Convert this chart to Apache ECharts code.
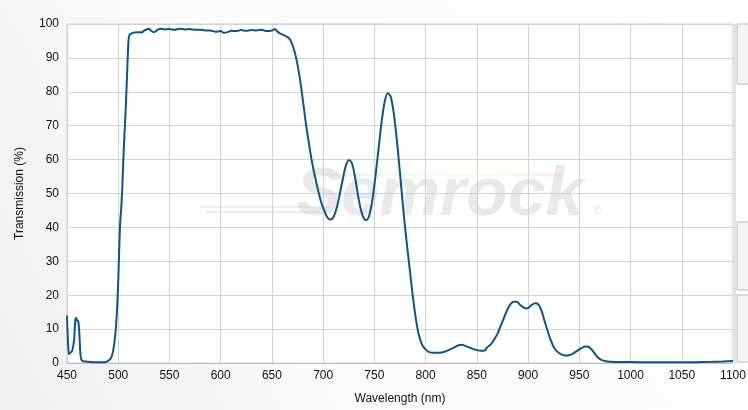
<!DOCTYPE html>
<html>
<head>
<meta charset="utf-8">
<script src="https://cdn.jsdelivr.net/npm/echarts@6/dist/echarts.min.js"></script>
<style>html,body{margin:0;padding:0;}#c{width:748px;height:410px;}</style>
</head>
<body>
<div id="c"></div>
<script>
const wavelength = [450,451,452,453,455,457,458,459,460,461,462,463,464,466,470,480,488,491,493,495,497,498.5,500,501,502,503,504,505,506,507,508,509,510,511,513,516,520,523,525,527,530,532,535,538,541,545,550,555,560,565,570,575,580,585,590,595,600,603,607,610,615,620,625,630,635,640,645,650,653,655,658,661,665,668,671,674,677,680,683,686,689,692,695,698,701,704,707,710,713,716,719,722,725,728,731,734,737,740,742,745,748,751,754,757,760,763,766,769,772,775,778,781,784,787,790,793,796,799,803,808,814,820,826,831,835,840,845,850,855,858,860,863,866,870,874,878,882,886,889,892,896,899,903,907,910,913,916,919,922,925,928,932,936,940,944,948,952,956,959,962,965,968,971,975,980,990,1000,1020,1040,1060,1080,1090,1100];
const transmission = [14,6,2.6,3,3.5,7,12.5,13.3,12.5,12.3,9,3,1,0.5,0.4,0.2,0.3,0.8,1.5,3.5,8,14,24,34,42,46,52,60,67,73,80,88,95,96.8,97.2,97.5,97.6,97.5,98,98.3,98.6,98,97.6,98.2,98.6,98.4,98.5,98.3,98.6,98.4,98.5,98.3,98.3,98.1,98.1,97.7,97.9,97.4,97.6,98,97.9,98.2,98,98.2,98.1,98.3,97.9,98.1,98.5,97.9,97.2,96.8,96.2,95.3,93,89.5,84.5,78,71,65,59.5,55,51,47.5,45,43,42.3,43,45.5,49.5,54,58,59.9,59,55,49.5,45,42.5,42.2,43.5,48,55,63,71,77,79.6,78.5,73.5,65.5,56,46,37,29,21,14,8.8,5.8,4.3,3.3,3,3,3.5,4.3,5.1,5.4,4.9,4.3,3.8,3.6,3.8,4.6,5.3,6.5,8.5,11.5,14.5,17,18.1,18.1,17.2,16.3,16.1,17,17.6,17.3,15.5,12.5,9.5,6.8,4.7,3.5,2.6,2.2,2.3,2.8,3.6,4.4,4.9,4.8,4,2.8,1.7,1,0.6,0.4,0.3,0.3,0.2,0.2,0.25,0.35,0.45,0.6];
const xTitle = 'Wavelength (nm)';
const yTitle = 'Transmission (%)';

const chart = echarts.init(document.getElementById('c'));
const font = 'Liberation Sans, Arial, sans-serif';
chart.setOption({
  animation: false,
  backgroundColor: new echarts.graphic.LinearGradient(1, 0, 0, 1, [
    {offset: 0, color: '#ffffff'}, {offset: 0.6, color: '#fbfbfb'}, {offset: 1, color: '#efefef'}
  ]),
  grid: {left: 67, right: 15, top: 24, bottom: 47, outerBoundsMode: 'none', containLabel: false, show: true, backgroundColor: '#ffffff', borderColor: '#cccccc', borderWidth: 1},
  graphic: [
    {type: 'rect', z: 1, shape: {x: 737, y: 24, width: 14, height: 60}, style: {fill: '#f4f4f4', stroke: '#bbbbbb', lineWidth: 1}},
    {type: 'rect', z: 1, shape: {x: 737, y: 222, width: 14, height: 68}, style: {fill: '#f4f4f4', stroke: '#bbbbbb', lineWidth: 1}},
    {type: 'rect', z: 1, shape: {x: 737, y: 295, width: 14, height: 67}, style: {fill: '#f4f4f4', stroke: '#bbbbbb', lineWidth: 1}},
    {type: 'rect', z: 1, shape: {x: 733, y: 24, width: 3, height: 339}, style: {fill: '#e4e4e4'}},
    {type: 'line', z: 1, shape: {x1: 200, y1: 207, x2: 330, y2: 207}, style: {stroke: 'rgba(200,200,200,0.35)', lineWidth: 2}},
    {type: 'line', z: 1, shape: {x1: 205, y1: 212, x2: 320, y2: 212}, style: {stroke: 'rgba(200,200,200,0.35)', lineWidth: 2}},
    {type: 'line', z: 1, shape: {x1: 320, y1: 175, x2: 562, y2: 175}, style: {stroke: new echarts.graphic.LinearGradient(0,0,1,0,[{offset:0,color:'rgba(180,180,255,0.25)'},{offset:0.4,color:'rgba(180,255,200,0.3)'},{offset:0.7,color:'rgba(255,240,180,0.3)'},{offset:1,color:'rgba(255,180,180,0.3)'}]), lineWidth: 3}},
    {type: 'text', z: 1, style: {x: 296, y: 196, text: 'Semrock', font: 'italic bold 68px Liberation Sans, Arial, sans-serif', fill: 'rgba(200,200,200,0.4)', textVerticalAlign: 'middle'}},
    {type: 'text', z: 1, style: {x: 594, y: 211, text: '®', font: '10px Liberation Sans, Arial, sans-serif', fill: 'rgba(200,200,200,0.5)', textVerticalAlign: 'middle'}}
  ],
  xAxis: {
    type: 'value', min: 450, max: 1100, interval: 50,
    name: xTitle, nameLocation: 'middle', nameGap: 30,
    nameTextStyle: {color: '#111', fontSize: 12, fontFamily: font},
    axisLine: {show: true, lineStyle: {color: '#c0c0c0'}},
    axisTick: {show: false},
    axisLabel: {color: '#111', fontSize: 12, fontFamily: font, margin: 7, formatter: v => String(v)},
    splitLine: {show: true, lineStyle: {color: '#d3d3d3', width: 1}}
  },
  yAxis: {
    type: 'value', min: 0, max: 100, interval: 10,
    name: yTitle, nameLocation: 'middle', nameGap: 41, nameRotate: 90,
    nameTextStyle: {color: '#111', fontSize: 12, fontFamily: font},
    axisLine: {show: false},
    axisTick: {show: false},
    axisLabel: {color: '#111', fontSize: 12, fontFamily: font, margin: 8},
    splitLine: {show: true, lineStyle: {color: '#d3d3d3', width: 1}}
  },
  series: [{
    type: 'line', z: 3,
    data: wavelength.map((w, i) => [w, transmission[i]]),
    showSymbol: false, smooth: 0.3,
    lineStyle: {color: '#0d5588', width: 2},
    itemStyle: {color: '#0d5588'}
  }]
});
</script>
</body>
</html>
